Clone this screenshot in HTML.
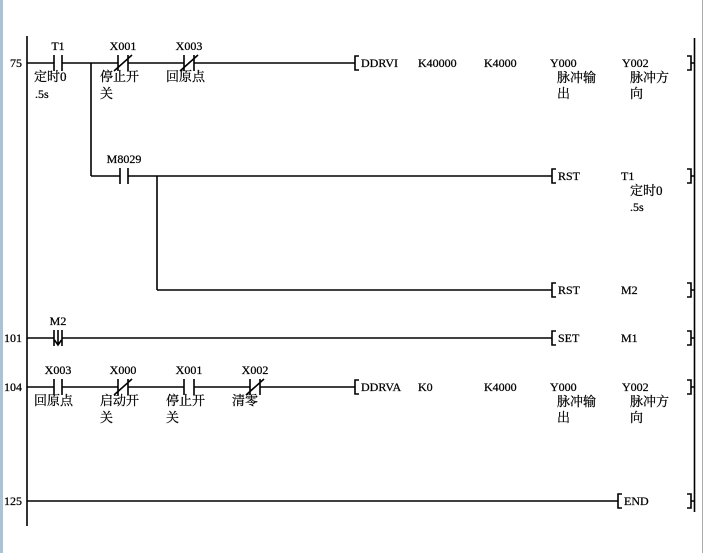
<!DOCTYPE html>
<html><head><meta charset="utf-8"><style>
html,body{margin:0;padding:0;background:#fff;width:706px;height:553px;overflow:hidden}
svg text{font-family:"Liberation Serif","Noto Serif CJK SC",serif;font-size:12px;fill:#000;stroke:#000;stroke-width:0.25}
svg text.c{font-size:13px}
</style></head><body>
<svg width="706" height="553" viewBox="0 0 706 553" xmlns="http://www.w3.org/2000/svg">
<rect x="0" y="0" width="3" height="553" fill="#a9c4d6"/>
<line x1="702.5" y1="0" x2="702.5" y2="553" stroke="#aaa" stroke-width="1"/>
<g stroke="#000" stroke-width="1.6" fill="none">
<line x1="27" y1="36" x2="27" y2="526"/>
<line x1="694.5" y1="38" x2="694.5" y2="512"/>
<line x1="27" y1="63" x2="54" y2="63"/><line x1="62" y1="63" x2="118" y2="63"/>
<line x1="128" y1="63" x2="184" y2="63"/><line x1="194" y1="63" x2="355" y2="63"/>
<line x1="91" y1="63" x2="91" y2="176"/>
<line x1="91" y1="176" x2="120" y2="176"/><line x1="128" y1="176" x2="552" y2="176"/>
<line x1="157" y1="176" x2="157" y2="290"/><line x1="157" y1="290" x2="552" y2="290"/>
<line x1="27" y1="338" x2="54" y2="338"/><line x1="62" y1="338" x2="552" y2="338"/>
<line x1="27" y1="387" x2="54" y2="387"/><line x1="62" y1="387" x2="118" y2="387"/>
<line x1="128" y1="387" x2="184" y2="387"/><line x1="194" y1="387" x2="250" y2="387"/>
<line x1="260" y1="387" x2="355" y2="387"/>
<line x1="27" y1="501" x2="618" y2="501"/>
</g>
<g stroke="#000" stroke-width="1.6" fill="none">
<path d="M54 55v16M62 55v16"/>
<path d="M118 55v16M128 55v16M114 71L132 55"/>
<path d="M184 55v16M194 55v16M180 71L198 55"/>
<path d="M120 168v16M128 168v16"/>
<path d="M54 330v16M62 330v16M58 330v15M54.5 340l3.5 5 3.5-5"/>
<path d="M54 379v16M62 379v16"/>
<path d="M118 379v16M128 379v16M114 395L132 379"/>
<path d="M184 379v16M194 379v16"/>
<path d="M250 379v16M260 379v16M246 395L264 379"/>
<path d="M359 56h-4v14h4"/>
<path d="M556 169h-4v14h4"/>
<path d="M556 283h-4v14h4"/>
<path d="M556 331h-4v14h4"/>
<path d="M359 380h-4v14h4"/>
<path d="M622 494h-4v14h4"/>
<path d="M687 56h4v14h-4M691 63h3"/>
<path d="M687 169h4v14h-4M691 176h3"/>
<path d="M687 283h4v14h-4M691 290h3"/>
<path d="M687 331h4v14h-4M691 338h3"/>
<path d="M687 380h4v14h-4M691 387h3"/>
<path d="M687 494h4v14h-4M691 501h3"/>
</g>
<text x="10" y="67">75</text>
<text x="4" y="342">101</text>
<text x="4" y="391">104</text>
<text x="4" y="505">125</text>
<text x="58" y="50" text-anchor="middle">T1</text>
<text x="123" y="50" text-anchor="middle">X001</text>
<text x="189" y="50" text-anchor="middle">X003</text>
<text x="124" y="163" text-anchor="middle">M8029</text>
<text x="58" y="325" text-anchor="middle">M2</text>
<text x="58" y="374" text-anchor="middle">X003</text>
<text x="123" y="374" text-anchor="middle">X000</text>
<text x="189" y="374" text-anchor="middle">X001</text>
<text x="255" y="374" text-anchor="middle">X002</text>
<text class="c" x="34" y="81">定时0</text><text x="35" y="98">.5s</text>
<text class="c" x="100" y="81">停止开</text><text class="c" x="100" y="98">关</text>
<text class="c" x="166" y="81">回原点</text>
<text class="c" x="34" y="405">回原点</text>
<text class="c" x="100" y="405">启动开</text><text class="c" x="100" y="422">关</text>
<text class="c" x="166" y="405">停止开</text><text class="c" x="166" y="422">关</text>
<text class="c" x="232" y="405">清零</text>
<text x="361" y="67">DDRVI</text><text x="418" y="67">K40000</text><text x="484" y="67">K4000</text>
<text x="550" y="67">Y000</text><text x="622" y="67">Y002</text>
<text class="c" x="557" y="82">脉冲输</text><text class="c" x="557" y="98">出</text>
<text class="c" x="630" y="82">脉冲方</text><text class="c" x="630" y="98">向</text>
<text x="558" y="180">RST</text><text x="621" y="180">T1</text>
<text class="c" x="630" y="195">定时0</text><text x="630" y="211">.5s</text>
<text x="558" y="294">RST</text><text x="621" y="294">M2</text>
<text x="558" y="342">SET</text><text x="621" y="342">M1</text>
<text x="361" y="391">DDRVA</text><text x="418" y="391">K0</text><text x="484" y="391">K4000</text>
<text x="550" y="391">Y000</text><text x="622" y="391">Y002</text>
<text class="c" x="557" y="406">脉冲输</text><text class="c" x="557" y="422">出</text>
<text class="c" x="630" y="406">脉冲方</text><text class="c" x="630" y="422">向</text>
<text x="624" y="505">END</text>
</svg>
</body></html>
